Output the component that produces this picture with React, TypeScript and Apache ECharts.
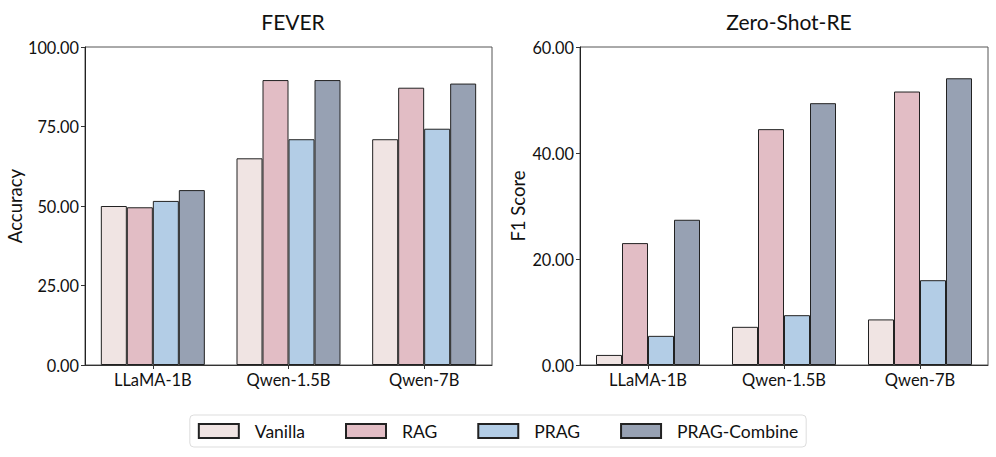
import React, { useEffect, useRef } from "react";
import * as echarts from "echarts";

const models = ["LLaMA-1B", "Qwen-1.5B", "Qwen-7B"];
const methods = ["Vanilla", "RAG", "PRAG", "PRAG-Combine"];
const colors = ["#F0E4E3", "#E2BDC5", "#B3CDE6", "#97A1B3"];

const feverVanilla = [50.0, 65.0, 71.0];
const feverRAG = [49.6, 89.6, 87.2];
const feverPRAG = [51.6, 71.0, 74.3];
const feverCombine = [55.0, 89.6, 88.5];

const zsreVanilla = [1.9, 7.2, 8.6];
const zsreRAG = [23.0, 44.5, 51.6];
const zsrePRAG = [5.5, 9.4, 16.0];
const zsreCombine = [27.4, 49.4, 54.1];

const feverTicks = { min: 0, max: 100, interval: 25 };
const zsreTicks = { min: 0, max: 60, interval: 20 };

const FONT = "Lato";

export default function App() {
  const ref = useRef<HTMLDivElement>(null);
  useEffect(() => {
    if (!ref.current) return;
    const chart = echarts.init(ref.current, null, { renderer: "svg" });
    const fever = [feverVanilla, feverRAG, feverPRAG, feverCombine];
    const zsre = [zsreVanilla, zsreRAG, zsrePRAG, zsreCombine];
    const mkX = (gi: number) => ({
      type: "category",
      gridIndex: gi,
      data: models,
      axisLine: { lineStyle: { color: "#333", width: 1 } },
      axisTick: { show: true, alignWithLabel: true, length: 4, lineStyle: { color: "#333" } },
      axisLabel: { color: "#111", fontSize: 16.5, fontFamily: FONT, margin: 6 },
    });
    const mkY = (gi: number, t: any, name: string, gap: number) => ({
      type: "value",
      gridIndex: gi,
      min: t.min,
      max: t.max,
      interval: t.interval,
      name,
      nameLocation: "middle",
      nameGap: gap,
      nameTextStyle: { color: "#111", fontSize: 18.5, fontFamily: FONT },
      splitLine: { show: false },
      axisLine: { show: true, lineStyle: { color: "#222", width: 1 } },
      axisTick: { show: true, length: 4, lineStyle: { color: "#333" } },
      axisLabel: {
        color: "#111",
        fontSize: 16.3,
        fontFamily: FONT,
        margin: 6,
        formatter: (v: number) => v.toFixed(2),
      },
    });
    const series: any[] = [];
    methods.forEach((m, i) => {
      series.push({
        type: "bar",
        name: m,
        xAxisIndex: 0,
        yAxisIndex: 0,
        data: fever[i],
        barWidth: 26,
        barGap: "0%",
        itemStyle: { color: colors[i], borderColor: "#222", borderWidth: 1 },
      });
    });
    methods.forEach((m, i) => {
      series.push({
        type: "bar",
        name: m,
        xAxisIndex: 1,
        yAxisIndex: 1,
        data: zsre[i],
        barWidth: 26,
        barGap: "0%",
        itemStyle: { color: colors[i], borderColor: "#222", borderWidth: 1 },
      });
    });
    chart.setOption({
      animation: false,
      backgroundColor: "#fff",
      title: [
        {
          text: "FEVER",
          left: 288,
          top: 6,
          textAlign: "center",
          textStyle: { fontSize: 21, fontWeight: "normal", color: "#111", fontFamily: FONT },
        },
        {
          text: "Zero-Shot-RE",
          left: 784,
          top: 6,
          textAlign: "center",
          textStyle: { fontSize: 21, fontWeight: "normal", color: "#111", fontFamily: FONT },
        },
      ],
      grid: [
        { left: 85, right: 504, top: 47, bottom: 92, show: true, borderColor: "#555", borderWidth: 1 },
        { left: 580, right: 8, top: 47, bottom: 92, show: true, borderColor: "#555", borderWidth: 1 },
      ],
      xAxis: [mkX(0), mkX(1)],
      yAxis: [
        mkY(0, feverTicks, "Accuracy", 61),
        mkY(1, zsreTicks, "F1 Score", 53),
      ],
      legend: {
        data: methods,
        left: "center",
        bottom: 10,
        itemWidth: 40,
        itemHeight: 14,
        itemGap: 40,
        padding: [7, 8, 7, 8],
        borderColor: "#ddd",
        borderWidth: 1,
        borderRadius: 4,
        icon: "rect",
        textStyle: { color: "#111", fontSize: 17.5, fontFamily: FONT, padding: [0, 0, 0, 11] },
      },
      series,
    });
    return () => chart.dispose();
  }, []);
  return (
    <div
      ref={ref}
      style={{ position: "fixed", left: 0, top: 0, width: 996, height: 457 }}
    />
  );
}
